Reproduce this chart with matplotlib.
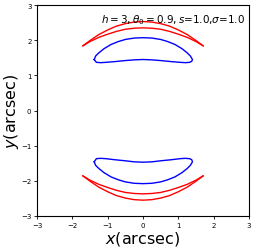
import matplotlib
matplotlib.use('Agg')
import matplotlib.pyplot as plt

# upper images
red_outer_up_x = [-1.70, -1.50, -1.25, -1.00, -0.75, -0.50, -0.25, 0.00, 0.25, 0.50, 0.75, 1.00, 1.25, 1.50, 1.70]
red_outer_up_y = [1.84, 1.99, 2.16, 2.29, 2.40, 2.47, 2.515, 2.53, 2.515, 2.47, 2.40, 2.29, 2.16, 1.99, 1.84]
red_inner_up_x = [-1.70, -1.50, -1.25, -1.00, -0.75, -0.50, -0.25, 0.00, 0.25, 0.50, 0.75, 1.00, 1.25, 1.50, 1.70]
red_inner_up_y = [1.84, 1.96, 2.08, 2.17, 2.25, 2.31, 2.34, 2.35, 2.34, 2.31, 2.25, 2.17, 2.08, 1.96, 1.84]

blue_up_x = [-1.38, -1.34, -1.25, -1.10, -0.90, -0.70, -0.50, -0.25, 0.00, 0.25, 0.50, 0.70, 0.90, 1.10, 1.25, 1.34, 1.40,
             1.38, 1.32, 1.20, 1.05, 0.80, 0.50, 0.25, 0.00, -0.25, -0.50, -0.80, -1.05, -1.20, -1.32, -1.38]
blue_up_y = [1.45, 1.55, 1.64, 1.76, 1.88, 1.96, 2.02, 2.06, 2.07, 2.06, 2.02, 1.96, 1.88, 1.76, 1.64, 1.55, 1.45,
             1.40, 1.37, 1.36, 1.37, 1.39, 1.42, 1.44, 1.45, 1.44, 1.42, 1.39, 1.37, 1.36, 1.37, 1.45]

# lower images
red_outer_lo_x = [-1.70, -1.50, -1.25, -1.00, -0.75, -0.50, -0.25, 0.00, 0.25, 0.50, 0.75, 1.00, 1.25, 1.50, 1.70]
red_outer_lo_y = [-1.86, -2.01, -2.18, -2.31, -2.42, -2.49, -2.535, -2.55, -2.535, -2.49, -2.42, -2.31, -2.18, -2.01, -1.86]
red_inner_lo_x = [-1.70, -1.50, -1.25, -1.00, -0.75, -0.50, -0.25, 0.00, 0.25, 0.50, 0.75, 1.00, 1.25, 1.50, 1.70]
red_inner_lo_y = [-1.86, -1.98, -2.10, -2.19, -2.27, -2.33, -2.36, -2.37, -2.36, -2.33, -2.27, -2.19, -2.10, -1.98, -1.86]

blue_lo_x = [-1.38, -1.34, -1.25, -1.10, -0.90, -0.70, -0.50, -0.25, 0.00, 0.25, 0.50, 0.70, 0.90, 1.10, 1.25, 1.34, 1.40,
             1.38, 1.32, 1.20, 1.05, 0.80, 0.50, 0.25, 0.00, -0.25, -0.50, -0.80, -1.05, -1.20, -1.32, -1.38]
blue_lo_y = [-1.46, -1.56, -1.65, -1.77, -1.89, -1.97, -2.03, -2.07, -2.08, -2.07, -2.03, -1.97, -1.89, -1.77, -1.65, -1.56, -1.46,
             -1.40, -1.37, -1.36, -1.37, -1.40, -1.43, -1.46, -1.47, -1.46, -1.43, -1.40, -1.37, -1.36, -1.37, -1.46]

ticks = [-3, -2, -1, 0, 1, 2, 3]

fig = plt.figure(figsize=(2.56, 2.51), dpi=100)
ax = fig.add_axes([37 / 256, 34 / 251, 212 / 256, 211 / 251])

ax.plot(red_outer_up_x, red_outer_up_y, color='red', lw=1)
ax.plot(red_inner_up_x, red_inner_up_y, color='red', lw=1)
ax.plot(blue_up_x, blue_up_y, color='blue', lw=1)
ax.plot(red_outer_lo_x, red_outer_lo_y, color='red', lw=1)
ax.plot(red_inner_lo_x, red_inner_lo_y, color='red', lw=1)
ax.plot(blue_lo_x, blue_lo_y, color='blue', lw=1)

ax.set_xlim(-3, 3)
ax.set_ylim(-3, 3)
ax.set_xticks(ticks)
ax.set_yticks(ticks)
ax.tick_params(labelsize=5, length=2.5, width=0.6, pad=1.5)
for s in ax.spines.values():
    s.set_linewidth(0.8)

ax.text(-1.2, 2.5, r'$h=3,\theta_0=0.9,s$=1.0,$\sigma$=1.0', fontsize=7.5)
ax.set_xlabel(r'$x$(arcsec)', fontsize=11.5, labelpad=1)
ax.set_ylabel(r'$y$(arcsec)', fontsize=11.5, labelpad=0)

fig.savefig('out.png', dpi=100)
